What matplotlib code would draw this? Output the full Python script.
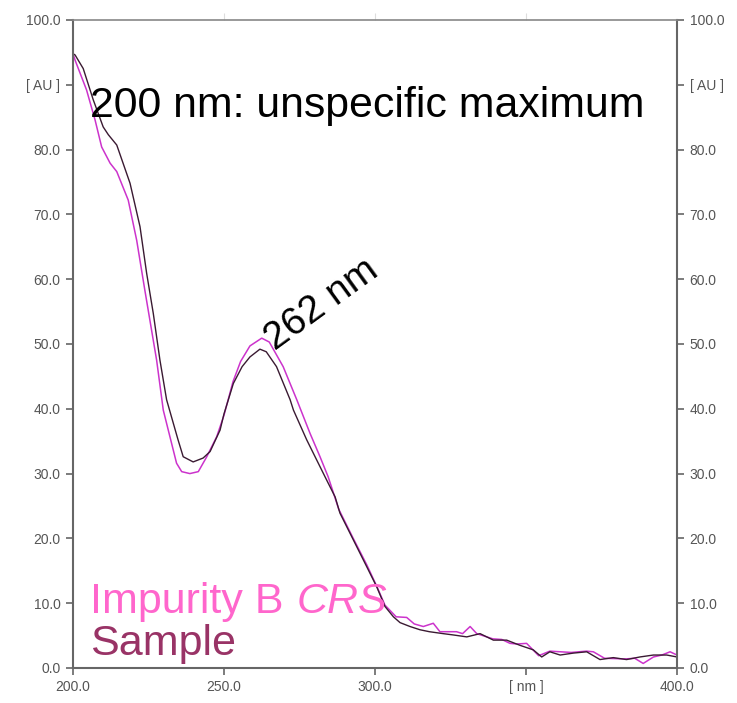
import matplotlib
matplotlib.use("Agg")
import matplotlib.pyplot as plt

# spectra (wavelength nm, absorbance AU)
sample_nm = [200, 200.7, 203.4, 206.7, 210, 211.7, 214.5, 218.9, 222.2, 224.4, 226.6,
             228.8, 231, 234.8, 236.5, 239.8, 243.1, 245.4, 248.7, 250, 253.1, 256,
             258.6, 261.9, 264, 267.4, 271.9, 273, 277.4, 280.7, 284, 286.8, 288.4,
             292.8, 297.3, 300.6, 303.3, 306.1, 308.3, 311.6, 314.9, 318, 322.6, 325.9,
             330.4, 334.8, 339.2, 343.6, 348, 352.4, 355.2, 357.9, 361.3, 365.7, 370.1,
             374.5, 378.9, 383.3, 387.7, 392.2, 396.6, 400]
sample_au = [94.8, 94.6, 92.5, 87.7, 83.5, 82.3, 80.7, 74.8, 68.1, 60.9, 54.7,
             47.5, 41.4, 35.2, 32.6, 31.8, 32.4, 33.4, 36.7, 39.2, 43.9, 46.5,
             48.0, 49.2, 48.8, 46.5, 41.4, 39.8, 35.2, 32.1, 29.0, 26.4, 23.9,
             19.8, 15.6, 12.5, 9.5, 7.9, 7.0, 6.4, 5.9, 5.6, 5.3, 5.1,
             4.8, 5.3, 4.3, 4.3, 3.5, 2.8, 1.7, 2.5, 2.0, 2.3, 2.5,
             1.3, 1.6, 1.3, 1.7, 2.0, 2.0, 1.7]

crs_nm = [200, 200.7, 204.5, 207.3, 209.5, 212.3, 214.5, 218.3, 221.1, 223.8, 227.7,
          229.9, 234.3, 236, 238.7, 241.5, 244.3, 247.6, 250, 253, 255.5, 258.6,
          262.5, 265, 269.6, 274.1, 278.5, 281.8, 284.5, 288, 292.8, 297.3, 300.6,
          303.3, 307, 310.5, 313, 316, 319.3, 321.5, 327, 329, 331.5, 333.7, 339,
          342, 344.7, 347, 350.2, 354.2, 357.9, 365, 370, 372.3, 376, 383, 386,
          388.8, 392.2, 395, 397.7, 400]
crs_au = [94.8, 93.8, 89.2, 84.6, 80.4, 77.9, 76.6, 72.2, 66.0, 58.3, 47.5,
          39.8, 31.6, 30.3, 30.0, 30.3, 32.6, 35.7, 39.0, 44.2, 47.3, 49.7,
          50.9, 50.3, 46.5, 41.4, 36.2, 32.6, 29.5, 24.5, 20.0, 15.9, 12.6,
          9.7, 7.9, 7.8, 6.8, 6.4, 6.9, 5.6, 5.6, 5.3, 6.4, 5.3, 4.5,
          4.4, 3.8, 3.7, 3.8, 1.9, 2.6, 2.4, 2.6, 2.5, 1.5, 1.4, 1.5,
          0.7, 1.7, 2.0, 2.5, 2.0]

x_ticks = [200, 250, 300, 350, 400]
x_labels = ["200.0", "250.0", "300.0", "[ nm ]", "400.0"]
y_ticks = [0, 10, 20, 30, 40, 50, 60, 70, 80, 90, 100]
y_labels = ["0.0", "10.0", "20.0", "30.0", "40.0", "50.0", "60.0", "70.0",
            "80.0", "[ AU ]", "100.0"]

plt.rcParams['font.family'] = ['Liberation Sans', 'DejaVu Sans']

fig = plt.figure(figsize=(7.37, 7.03), dpi=100)
ax = fig.add_axes([0.099, 0.0498, 0.8196, 0.9218])

ax.plot(crs_nm, crs_au, color='#cc33cc', lw=1.1)
ax.plot(sample_nm, sample_au, color='#3a1a32', lw=1.0)

ax.set_xlim(200, 400)
ax.set_ylim(0, 100)
ax.set_xticks(x_ticks)
ax.set_xticklabels(x_labels)
ax.set_yticks(y_ticks)
ax.set_yticklabels(y_labels)

for s in ax.spines.values():
    s.set_color('#666666')
    s.set_linewidth(1.5)
ax.spines['top'].set_color('#888888')
ax.spines['top'].set_linewidth(1.2)

ax.tick_params(axis='both', direction='out', length=5, width=1.2, color='#666666',
               labelcolor='#555555', labelsize=10, pad=4)
ax.tick_params(axis='y', right=True, labelright=True)

top = ax.secondary_xaxis('top')
top.set_xticks([250, 300, 350])
top.tick_params(direction='out', length=5, color='#dddddd', labeltop=False)
top.spines['top'].set_visible(False)

# annotations
ax.text(205.6, 85.0, "200 nm: unspecific maximum", fontsize=30.8, color='black',
        ha='left', va='baseline')
ax.text(267.0, 48.9, "262 nm", fontsize=28, color='black', rotation=36,
        rotation_mode='anchor', ha='left', va='baseline')
ax.text(205.6, 8.5, "Impurity B", fontsize=31, color='#ff66cc',
        ha='left', va='baseline')
ax.text(274.2, 8.5, "CRS", fontsize=31, color='#ff66cc', style='italic',
        ha='left', va='baseline')
ax.text(205.6, 2.0, "Sample", fontsize=31, color='#993366',
        ha='left', va='baseline')

fig.savefig('out.png', dpi=100)
